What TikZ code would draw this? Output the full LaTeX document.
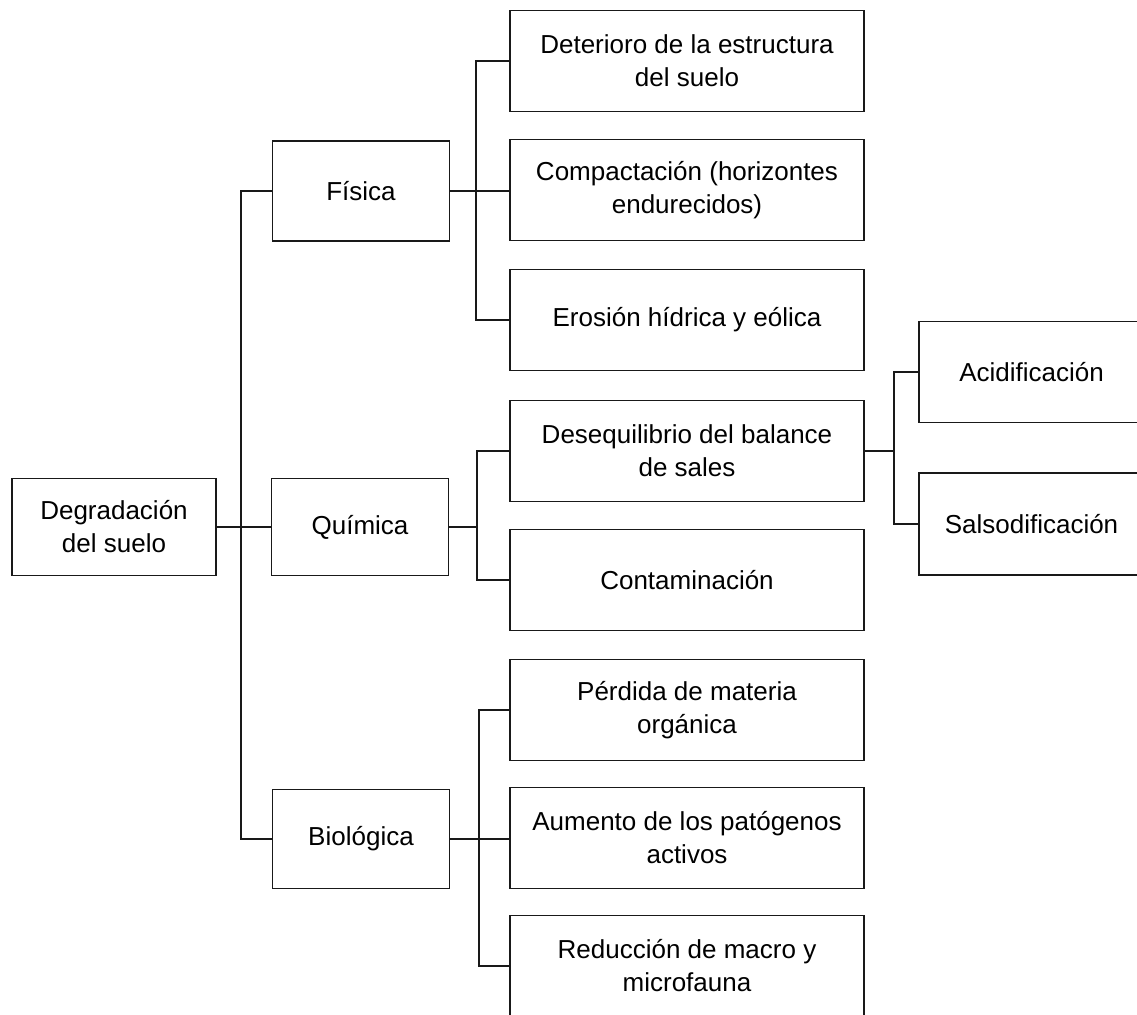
\documentclass[tikz,border=0pt]{standalone}
\usepackage{fontspec}
\setmainfont{Liberation Sans}

\definecolor{lineblack}{rgb}{0.1, 0.1, 0.1}

\tikzset{
  box/.style={draw=lineblack, line width=1.2pt, fill=white, align=center,
    inner sep=0pt, font=\fontsize{26}{33}\selectfont},
  rootbox/.style={box, minimum width=204pt, minimum height=97pt},
  midbox/.style={box, minimum width=177pt, minimum height=100pt},
  leafbox/.style={box, minimum width=354pt, minimum height=101pt},
  sidebox/.style={box, minimum width=225pt, minimum height=101pt},
  conn/.style={lineblack, line width=1.2pt}
}

\begin{document}
\begin{tikzpicture}[x=1pt,y=-1pt]

        \clip (0,0) rectangle (1137,1014);
        %\draw [help lines,step=100] (0,0) grid (1137,1014);

        \node[rootbox] (degradacion) at (114,527) {Degradación\\del suelo};

        \node[midbox] (fisica) at (361,191) {Física};
        \node[midbox, minimum height=97pt] (quimica) at (360,527) {Química};
        \node[midbox, minimum height=99pt] (biologica) at (361,839) {Biológica};

        \node[leafbox] (deterioro) at (687,61) {Deterioro de la estructura\\del suelo};
        \node[leafbox] (compactacion) at (687,190) {Compactación (horizontes\\endurecidos)};
        \node[leafbox] (erosion) at (687,320) {Erosión hídrica y eólica};

        \node[leafbox] (desequilibrio) at (687,451) {Desequilibrio del balance\\de sales};
        \node[leafbox] (contaminacion) at (687,580) {Contaminación};

        \node[leafbox] (perdida) at (687,710) {Pérdida de materia\\orgánica};
        \node[leafbox] (aumento) at (687,838) {Aumento de los patógenos\\activos};
        \node[leafbox] (reduccion) at (687,966) {Reducción de macro y\\microfauna};

        \node[sidebox] (acidificacion) at (1031.5,372) {Acidificación};
        \node[sidebox, minimum height=102pt] (salsodificacion) at (1031.5,524) {Salsodificación};



        \coordinate (busroot) at (241,527);
        \coordinate (busfis) at (476,191);
        \coordinate (busqui) at (477,527);
        \coordinate (busdes) at (894,451);
        \coordinate (busbio) at (479,839);

        \draw [conn] (degradacion.east) -- (quimica.west);
        \draw [conn] (fisica.west) -| (busroot |- biologica.west) -- (biologica.west);

        \draw [conn] (fisica.east) -- (fisica.east -| compactacion.west);
        \draw [conn] (deterioro.west) -| (busfis |- erosion.west) -- (erosion.west);

        \draw [conn] (quimica.east) -- (busqui);
        \draw [conn] (desequilibrio.west) -| (busqui |- contaminacion.west) -- (contaminacion.west);

        \draw [conn] (desequilibrio.east) -- (busdes);
        \draw [conn] (acidificacion.west) -| (busdes |- salsodificacion.west) -- (salsodificacion.west);

        \draw [conn] (biologica.east) -- (biologica.east -| aumento.west);
        \draw [conn] (perdida.west) -| (busbio |- reduccion.west) -- (reduccion.west);

    \end{tikzpicture}
\end{document}
